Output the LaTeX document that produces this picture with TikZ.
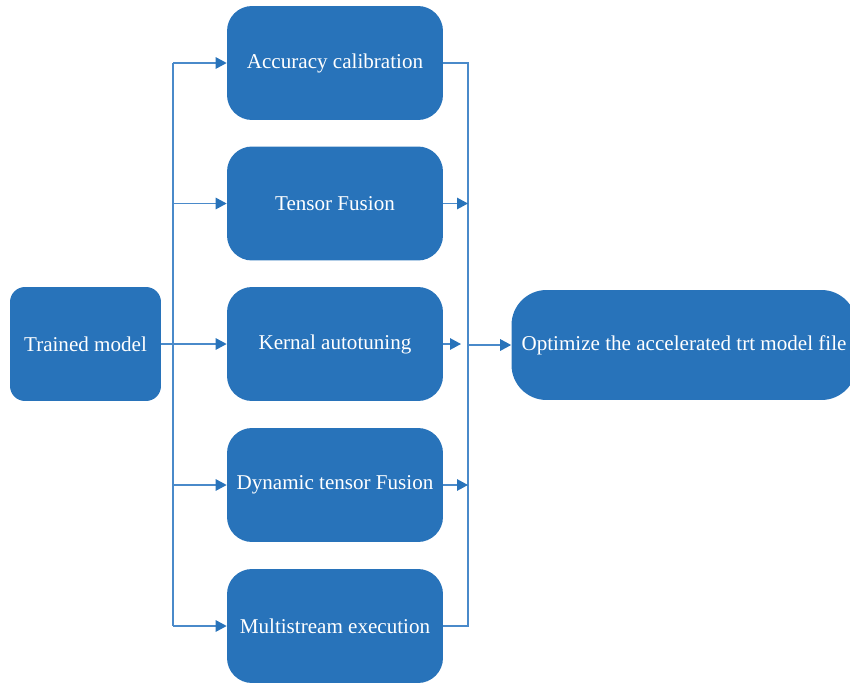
\documentclass[tikz,border=0pt]{standalone}
\usepackage{fontspec}
\setmainfont{Liberation Serif}
\usetikzlibrary{arrows.meta}
\definecolor{boxblue}{HTML}{2873BA}
\definecolor{lineblue}{HTML}{4A8ACA}

\begin{document}
\begin{tikzpicture}[x=0.02cm, y=-0.02cm,
    stage/.style={fill=boxblue, text=white, rounded corners=0.5cm,
        minimum width=4.32cm, minimum height=2.28cm, inner sep=0pt,
        font=\fontsize{12}{14}\selectfont},
    flow/.style={draw=lineblue, line width=0.8pt},
    tip/.style={-{Triangle[length=2.2mm, width=2.3mm, color=boxblue]}}]
    \useasboundingbox (0, 0) rectangle (850, 684);
    % boxes
    \node[stage, minimum width=3.02cm, rounded corners=0.3cm] (trained) at (85.5, 344) {Trained model};
    \foreach \y/\name/\txt in {63/acc/Accuracy calibration, 203.5/fusion/Tensor Fusion,
        344/kernal/Kernal autotuning, 485/dyn/Dynamic tensor Fusion, 626/multi/Multistream execution}
        \node[stage] (\name) at (335, \y) {\txt};
    \node[stage, minimum width=6.9cm, minimum height=2.2cm, rounded corners=0.7cm] (trt) at (684, 345)
        {Optimize the accelerated trt model file};
    % left bus
    \coordinate (lbustop) at (173, 63);
    \coordinate (lbusbot) at (173, 626);
    \draw[flow] (lbustop) -- (lbusbot);
    \draw[flow, tip] (trained) -- (kernal);
    \foreach \name in {acc, fusion, dyn, multi}
        \draw[flow, tip] (lbustop |- \name.west) -- (\name.west);
    % right bus
    \coordinate (rbustop) at (468, 63);
    \coordinate (rbusbot) at (468, 626);
    \coordinate (kgap) at (461, 344);
    \draw[flow] (acc.east) -- (rbustop) -- (rbusbot) -- (multi.east);
    \draw[flow, tip] (fusion.east) -- (rbustop |- fusion.east);
    \draw[flow, tip] (dyn.east) -- (rbustop |- dyn.east);
    \draw[flow, tip] (kernal.east) -- (kgap);
    \draw[flow, tip] (rbustop |- trt.west) -- (trt.west);
\end{tikzpicture}
\end{document}
